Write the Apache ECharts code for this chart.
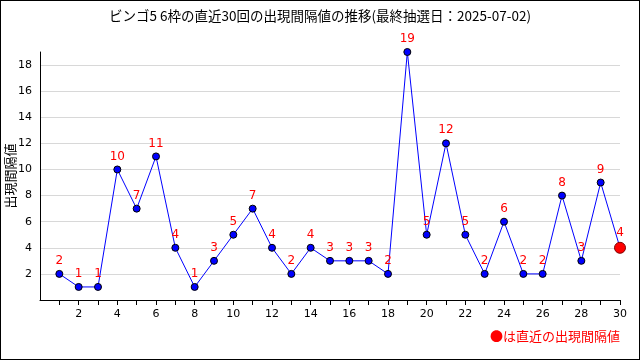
<!DOCTYPE html>
<html><head><meta charset="utf-8">
<script src="https://cdn.jsdelivr.net/npm/echarts@6/dist/echarts.min.js"></script>
<style>
html,body{margin:0;padding:0;background:#fff;}
#c{width:640px;height:360px;box-sizing:border-box;border:1px solid #000;}
</style></head>
<body><div id="c"></div>
<script>
const titleText = 'ビンゴ5 6枠の直近30回の出現間隔値の推移(最終抽選日：2025-07-02)';
const yAxisName = '出現間隔値';
const legendText = '●は直近の出現間隔値';
const draws = [1,2,3,4,5,6,7,8,9,10,11,12,13,14,15,16,17,18,19,20,21,22,23,24,25,26,27,28,29,30];
const gaps = [2,1,1,10,7,11,4,1,3,5,7,4,2,4,3,3,3,2,19,5,12,5,2,6,2,2,8,3,9,4];
const xTickLabels = [2,4,6,8,10,12,14,16,18,20,22,24,26,28,30];
const yTickLabels = [2,4,6,8,10,12,14,16,18];

const font = '"Noto Sans CJK JP", "DejaVu Sans", sans-serif';
const pts = draws.map((d, i) => {
  const last = i === draws.length - 1;
  return {
    value: [d, gaps[i]],
    symbolSize: last ? 11 : 7,
    itemStyle: last ? {color: '#ff0000', borderColor: '#800000', borderWidth: 1}
                    : {color: '#0000ff', borderColor: '#000', borderWidth: 1}
  };
});

const chart = echarts.init(document.getElementById('c'), null, {renderer: 'canvas'});
chart.setOption({
  animation: false,
  title: {text: titleText, left: 'center', top: 3,
    textStyle: {fontSize: 13.5, fontWeight: 'normal', color: '#000', fontFamily: font}},
  grid: {left: 39, right: 19, top: 51, bottom: 59, containLabel: false, outerBoundsMode: 'none'},
  xAxis: {type: 'value', min: 0, max: 30, interval: 1,
    axisLine: {lineStyle: {color: '#000', width: 1}},
    axisTick: {show: true, length: 5, lineStyle: {color: '#000'}, customValues: draws},
    axisLabel: {color: '#000', fontSize: 11, fontFamily: '"DejaVu Sans", sans-serif', margin: 9,
      customValues: xTickLabels},
    splitLine: {show: false}},
  yAxis: {type: 'value', min: 0, max: 19, interval: 2,
    axisLine: {show: true, lineStyle: {color: '#000', width: 1}},
    axisTick: {show: false},
    axisLabel: {color: '#000', fontSize: 11, fontFamily: '"DejaVu Sans", sans-serif', margin: 8,
      customValues: yTickLabels},
    splitLine: {show: true, showMinLine: false, showMaxLine: false, lineStyle: {color: '#d8d8d8', width: 1}}},
  graphic: [
    {type: 'text', x: 9, y: 175, rotation: Math.PI / 2,
      style: {text: yAxisName, fill: '#000', fontSize: 13, fontFamily: font, align: 'center', verticalAlign: 'middle'}},
    {type: 'text', right: 19, bottom: 16,
      style: {text: legendText, fill: '#ff0000', fontSize: 13, fontFamily: font}}],
  series: [{type: 'line', data: pts, symbol: 'circle',
    lineStyle: {color: '#0000ff', width: 1},
    label: {show: true, position: 'top', distance: 3, color: '#ff0000', fontSize: 12,
      fontFamily: '"DejaVu Sans", sans-serif', formatter: p => String(p.value[1])}}]
});
</script></body></html>
